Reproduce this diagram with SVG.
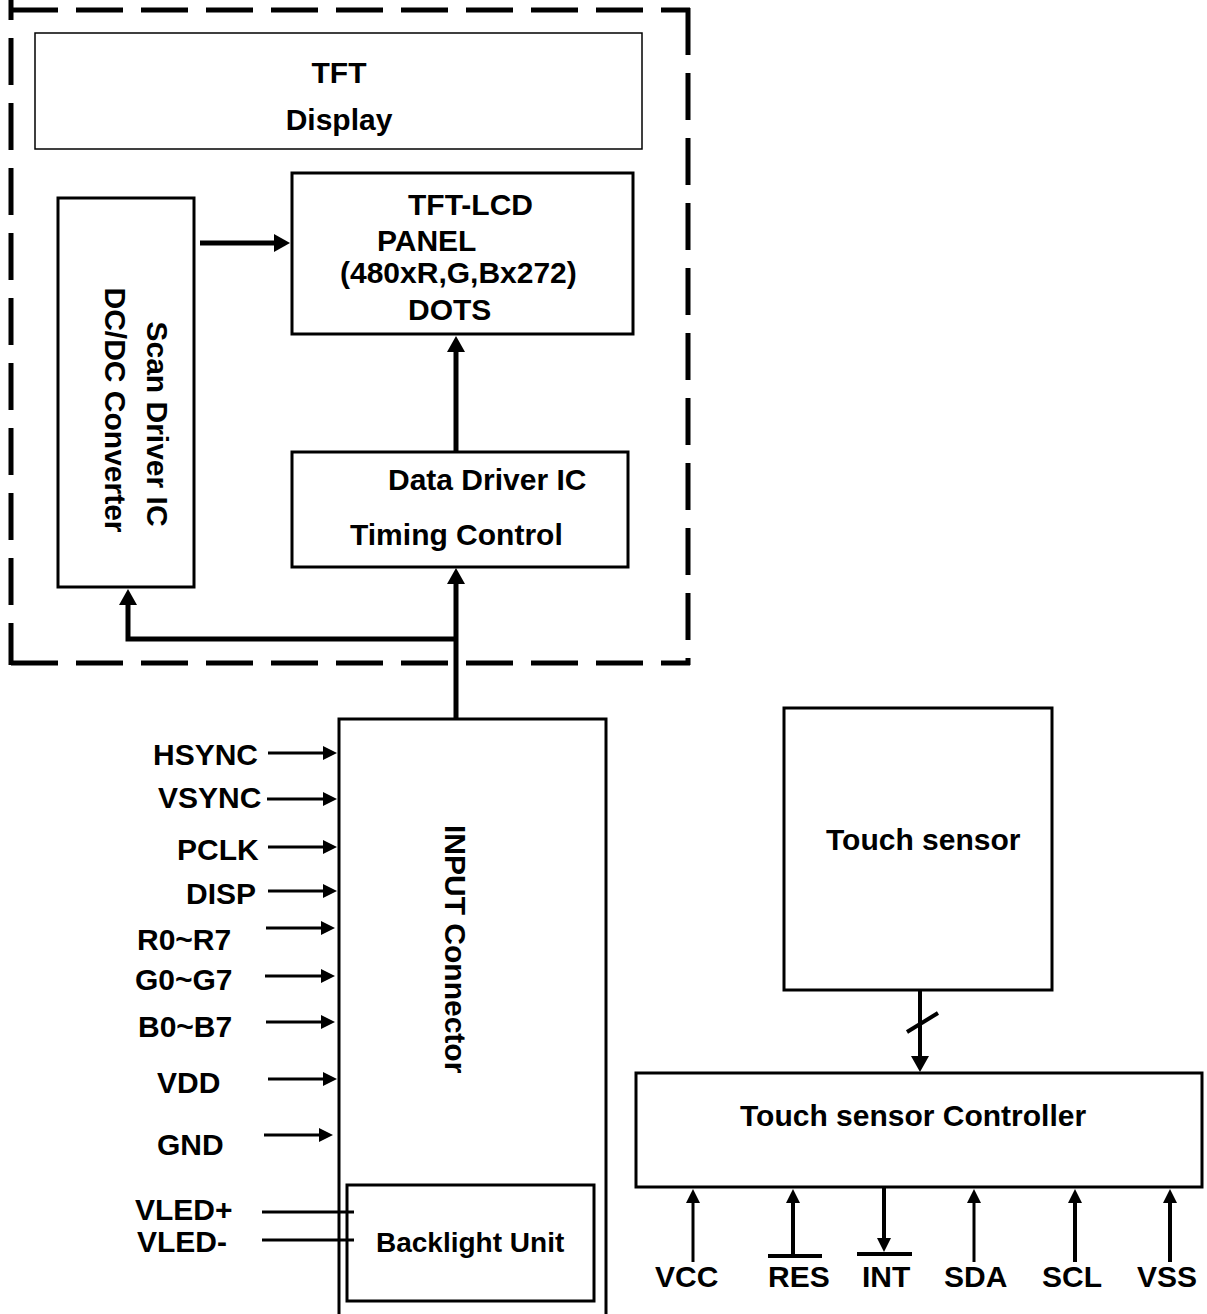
<svg xmlns="http://www.w3.org/2000/svg" width="1207" height="1314" viewBox="0 0 1207 1314">
<style>
.t{font-family:"Liberation Sans",Arial,sans-serif;font-weight:bold;font-size:30px;fill:#000}
.box{fill:none;stroke:#000;stroke-width:3}
.thin{fill:none;stroke:#000;stroke-width:1.5}
.dash{fill:none;stroke:#000;stroke-width:5;stroke-dasharray:47 18}
.c{fill:none;stroke:#000}
.w5{stroke-width:5}
.w3{stroke-width:3}
.w4{stroke-width:4}
</style>
<defs>
<marker id="ah" markerUnits="userSpaceOnUse" markerWidth="14" markerHeight="14" refX="2" refY="7" orient="auto"><path d="M0,0 L14,7 L0,14 z" fill="#000"/></marker>
<marker id="ahL" markerUnits="userSpaceOnUse" markerWidth="16" markerHeight="18" refX="2" refY="9" orient="auto"><path d="M0,0 L16,9 L0,18 z" fill="#000"/></marker>
</defs>
<rect width="1207" height="1314" fill="#fff"/>

<g id="module-boundary">
<line class="dash" x1="11" y1="10" x2="690" y2="10"/>
<line class="dash" x1="11" y1="663" x2="690" y2="663"/>
<line class="dash" x1="11" y1="-27" x2="11" y2="665"/>
<line class="dash" x1="688" y1="8" x2="688" y2="665"/>
</g>

<g id="tft-display">
<rect class="thin" x="35" y="33" width="607" height="116"/>
<text class="t" x="339" y="83" text-anchor="middle">TFT</text>
<text class="t" x="339" y="130" text-anchor="middle">Display</text>
</g>

<g id="tft-lcd-panel">
<rect class="box" x="292" y="173" width="341" height="161"/>
<text class="t" x="408" y="215">TFT-LCD</text>
<text class="t" x="377" y="251">PANEL</text>
<text class="t" x="340" y="283">(480xR,G,Bx272)</text>
<text class="t" x="408" y="320">DOTS</text>
</g>

<g id="scan-driver">
<rect class="box" x="58" y="198" width="136" height="389"/>
<text class="t" transform="translate(147,424) rotate(90)" text-anchor="middle">Scan Driver IC</text>
<text class="t" transform="translate(105,410) rotate(90)" text-anchor="middle">DC/DC Converter</text>
</g>

<g id="data-driver">
<rect class="box" x="292" y="452" width="336" height="115"/>
<text class="t" x="388" y="490">Data Driver IC</text>
<text class="t" x="350" y="545">Timing Control</text>
</g>

<g id="input-connector">
<path class="box" d="M339,1314 V719 H606 V1314"/>
<text class="t" transform="translate(445,825) rotate(90)">INPUT Connector</text>
</g>

<g id="backlight-unit">
<rect class="box" x="347" y="1185" width="247" height="116"/>
<text class="t" x="376" y="1252" style="font-size:28px">Backlight Unit</text>
</g>

<g id="touch-sensor">
<rect class="box" x="784" y="708" width="268" height="282"/>
<text class="t" x="826" y="850">Touch sensor</text>
</g>

<g id="touch-controller">
<rect class="box" x="636" y="1073" width="566" height="114"/>
<text class="t" x="740" y="1126">Touch sensor Controller</text>
</g>

<g id="signal-labels">
<text class="t" x="153" y="765">HSYNC</text>
<text class="t" x="158" y="808">VSYNC</text>
<text class="t" x="177" y="860">PCLK</text>
<text class="t" x="186" y="904">DISP</text>
<text class="t" x="137" y="950">R0~R7</text>
<text class="t" x="135" y="990">G0~G7</text>
<text class="t" x="138" y="1037">B0~B7</text>
<text class="t" x="157" y="1093">VDD</text>
<text class="t" x="157" y="1155">GND</text>
<text class="t" x="135" y="1220">VLED+</text>
<text class="t" x="137" y="1252">VLED-</text>
<text class="t" x="655" y="1287">VCC</text>
<text class="t" x="768" y="1287">RES</text>
<text class="t" x="862" y="1287">INT</text>
<text class="t" x="944" y="1287">SDA</text>
<text class="t" x="1042" y="1287">SCL</text>
<text class="t" x="1137" y="1287">VSS</text>
</g>

<g id="connectors">
<line class="c w5" x1="200" y1="243" x2="276" y2="243" marker-end="url(#ahL)"/>
<line class="c w5" x1="456" y1="452" x2="456" y2="350" marker-end="url(#ahL)"/>
<line class="c w5" x1="456" y1="719" x2="456" y2="582" marker-end="url(#ahL)"/>
<polyline class="c w5" points="456,639 128,639 128,603" marker-end="url(#ahL)"/>

<line class="c w3" x1="268" y1="753" x2="325" y2="753" marker-end="url(#ah)"/>
<line class="c w3" x1="267" y1="799" x2="325" y2="799" marker-end="url(#ah)"/>
<line class="c w3" x1="268" y1="847" x2="325" y2="847" marker-end="url(#ah)"/>
<line class="c w3" x1="268" y1="891" x2="325" y2="891" marker-end="url(#ah)"/>
<line class="c w3" x1="266" y1="928" x2="323" y2="928" marker-end="url(#ah)"/>
<line class="c w3" x1="265" y1="976" x2="323" y2="976" marker-end="url(#ah)"/>
<line class="c w3" x1="266" y1="1022" x2="323" y2="1022" marker-end="url(#ah)"/>
<line class="c w3" x1="268" y1="1079" x2="325" y2="1079" marker-end="url(#ah)"/>
<line class="c w3" x1="264" y1="1135" x2="321" y2="1135" marker-end="url(#ah)"/>
<line class="c w3" x1="262" y1="1212" x2="354" y2="1212"/>
<line class="c w3" x1="262" y1="1240" x2="354" y2="1240"/>

<line class="c w4" x1="920" y1="990" x2="920" y2="1058" marker-end="url(#ahL)"/>
<line class="c w4" x1="907" y1="1032" x2="938" y2="1013"/>

<line class="c w3" x1="693" y1="1262" x2="693" y2="1201" marker-end="url(#ah)"/>
<line class="c w4" x1="793" y1="1255" x2="793" y2="1201" marker-end="url(#ah)"/>
<line class="c w4" x1="884" y1="1187" x2="884" y2="1240" marker-end="url(#ah)"/>
<line class="c w3" x1="974" y1="1262" x2="974" y2="1201" marker-end="url(#ah)"/>
<line class="c w4" x1="1075" y1="1262" x2="1075" y2="1201" marker-end="url(#ah)"/>
<line class="c w4" x1="1170" y1="1262" x2="1170" y2="1201" marker-end="url(#ah)"/>
<line class="c w4" x1="768" y1="1256" x2="822" y2="1256"/>
<line class="c w4" x1="857" y1="1254" x2="912" y2="1254"/>
</g>
</svg>
